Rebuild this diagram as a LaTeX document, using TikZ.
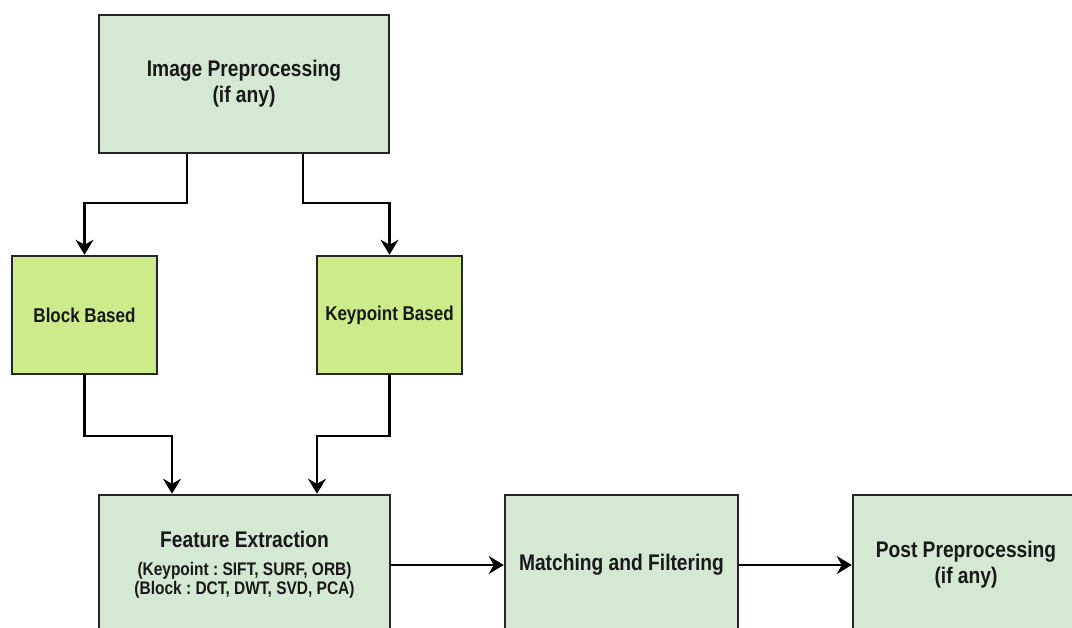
\documentclass[tikz,border=0pt]{standalone}
\usepackage{fontspec}
\setmainfont{Liberation Sans}[FakeStretch=0.85]
\usetikzlibrary{arrows.meta}
\frenchspacing

\definecolor{palegreen}{HTML}{D5E8D4}
\definecolor{limegreen}{HTML}{CDEB8B}
\definecolor{boxline}{HTML}{262626}

\tikzset{
  stage/.style={draw=boxline, line width=2.5pt, fill=palegreen, inner sep=0pt,
    align=center, font=\bfseries\fontsize{22.6}{26}\selectfont, text=black!90},
  branch/.style={stage, fill=limegreen, minimum width=145pt, minimum height=118pt,
    font=\bfseries\fontsize{20}{24}\selectfont},
  flow/.style={draw=black, line width=2.2pt, -{Stealth[length=15pt,width=18pt,inset=5pt]}}
}

\begin{document}
\begin{tikzpicture}[x=1pt,y=-1pt]
    \useasboundingbox (0,0) rectangle (1072,628);
    \clip (0,0) rectangle (1072,628);

    % Top box
    \node[stage, minimum width=290pt, minimum height=138pt] (pre) at (244,84)
      {Image Preprocessing\\(if any)};

    %% The two branches
    \node[branch] (blk) at (84.5,315) {Block Based};
    \node[branch] (kpt) at (389.5,315) {Keypoint Based};

    %% Bottom row
    \node[stage, minimum width=291pt, minimum height=140pt,
      font=\bfseries\fontsize{18.2}{19}\selectfont] (fe) at (244.5,565)
      {{\fontsize{22.6}{26}\selectfont Feature Extraction}\\[9pt]
       (Keypoint : SIFT, SURF, ORB)\\
       (Block : DCT, DWT, SVD, PCA)};
    \node[stage, minimum width=233pt, minimum height=140pt] (mf) at (621.5,565)
      {Matching and Filtering};
    \node[stage, minimum width=226pt, minimum height=140pt] (pp) at (966,565)
      {Post Preprocessing\\(if any)};

    %% Bends
    \coordinate (splitL) at (187,203);
    \coordinate (splitR) at (303,203);
    \coordinate (joinL) at (172,436);
    \coordinate (joinR) at (317,436);

    %% Connectors
    \draw[flow] (splitL |- pre.south) -- (splitL) -| (blk.north);
    \draw[flow] (splitR |- pre.south) -- (splitR) -| (kpt.north);
    \draw[flow] (blk.south) |- (joinL) -- (joinL |- fe.north);
    \draw[flow] (kpt.south) |- (joinR) -- (joinR |- fe.north);
    \draw[flow] (fe) -- (mf);
    \draw[flow] (mf) -- (pp);
\end{tikzpicture}
\end{document}
